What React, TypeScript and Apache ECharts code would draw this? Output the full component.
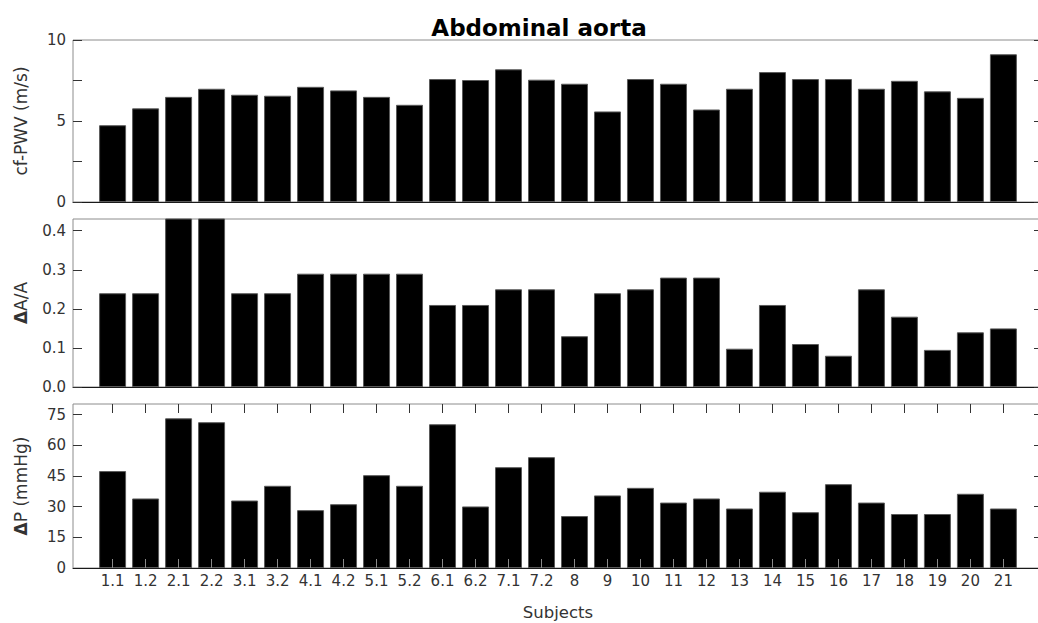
import React, { useEffect, useRef } from "react";
import * as echarts from "echarts";

const subjects = ["1.1","1.2","2.1","2.2","3.1","3.2","4.1","4.2","5.1","5.2","6.1","6.2","7.1","7.2","8","9","10","11","12","13","14","15","16","17","18","19","20","21"];
const pwv = [4.74,5.78,6.49,6.99,6.62,6.56,7.11,6.89,6.49,6.0,7.59,7.53,8.19,7.55,7.3,5.59,7.59,7.3,5.71,6.99,8.02,7.59,7.59,6.99,7.48,6.83,6.43,9.12];
const dAA = [0.24,0.24,0.48,0.48,0.24,0.24,0.29,0.29,0.29,0.29,0.21,0.21,0.25,0.25,0.13,0.24,0.25,0.28,0.28,0.098,0.21,0.11,0.08,0.25,0.18,0.095,0.14,0.15];
const dP = [47.4,34,73.2,71.3,33,40.2,28.3,31.2,45.4,40.2,70.3,30.1,49.3,54.2,25.4,35.5,39.2,32,34,29.1,37.3,27.3,41,32,26.4,26.4,36.3,29.1];

const pwvTicks = [0, 2.5, 5, 7.5, 10];
const pwvLabels = [0, 5, 10];
const aaTicks = [0, 0.1, 0.2, 0.3, 0.4];
const dpTicks = [0, 15, 30, 45, 60, 75];

const FONT = "DejaVu Sans";
const LABEL = "#333";

export default function App() {
  const ref = useRef<HTMLDivElement>(null);
  useEffect(() => {
    if (!ref.current) return;
    const chart = echarts.init(ref.current, undefined, { renderer: "svg" });
    const positions = subjects.map((_, i) => i + 1);
    const grids = [
      { left: 73, top: 40, width: 970, height: 162 },
      { left: 73, top: 219, width: 970, height: 168 },
      { left: 73, top: 404, width: 970, height: 164 },
    ].map((g) => ({
      ...g,
      show: true,
      borderColor: "#8c8c8c",
      borderWidth: 1,
      containLabel: false,
      outerBoundsMode: "none",
    }));

    const xBase = (gi: number, last: boolean) => ({
      type: "value",
      gridIndex: gi,
      min: -0.2,
      max: 29.2,
      position: "bottom",
      splitLine: { show: false },
      axisLine: { show: true, onZero: false, lineStyle: { color: "#1a1a1a", width: 1 } },
      axisTick: last
        ? { show: true, inside: true, length: 9, customValues: positions, lineStyle: { color: "#8a8a8a" } }
        : { show: false },
      axisLabel: last
        ? {
            show: true,
            customValues: positions,
            margin: 5,
            color: LABEL,
            fontFamily: FONT,
            fontSize: 15,
            formatter: (v: number) => subjects[Math.round(v) - 1] ?? "",
          }
        : { show: false },
      name: last ? "Subjects" : "",
      nameLocation: "middle",
      nameGap: 36,
      nameTextStyle: { color: LABEL, fontFamily: FONT, fontSize: 16.5 },
      z: last ? 3 : 0,
    });

    const xAxes: any[] = [xBase(0, false), xBase(1, false), xBase(2, true)];
    xAxes.push({
      type: "value",
      gridIndex: 2,
      min: -0.2,
      max: 29.2,
      position: "top",
      splitLine: { show: false },
      axisLine: { show: false, onZero: false },
      axisTick: { show: true, inside: true, length: 9, customValues: positions, lineStyle: { color: "#333" } },
      axisLabel: { show: false },
    });

    const nameStyle = {
      color: LABEL,
      fontFamily: FONT,
      fontSize: 17,
      rich: { d: { fontFamily: FONT, fontSize: 17, fontWeight: "bold", color: LABEL } },
    };

    const yPair = (gi: number, min: number, max: number, ticks: number[], labels: number[], fmt: (v: number) => string, name: string) => [
      {
        type: "value",
        gridIndex: gi,
        min,
        max,
        position: "left",
        splitLine: { show: false },
        axisLine: { show: false, onZero: false },
        axisTick: { show: true, inside: true, length: 9, customValues: ticks, lineStyle: { color: "#333" } },
        axisLabel: { show: true, customValues: labels, margin: 7, color: LABEL, fontFamily: FONT, fontSize: 15, formatter: fmt },
        name,
        nameLocation: "middle",
        nameGap: 44,
        nameTextStyle: nameStyle,
      },
      {
        type: "value",
        gridIndex: gi,
        min,
        max,
        position: "right",
        splitLine: { show: false },
        axisLine: { show: false, onZero: false },
        axisTick: { show: true, inside: true, length: 9, customValues: ticks, lineStyle: { color: "#333" } },
        axisLabel: { show: false },
      },
    ];

    const yAxes = [
      ...yPair(0, 0, 10, pwvTicks, pwvLabels, (v) => String(v), "cf-PWV (m/s)"),
      ...yPair(1, 0, 0.43, aaTicks, aaTicks, (v) => v.toFixed(1), "{d|Δ}A/A"),
      ...yPair(2, 0, 80.2, dpTicks, dpTicks, (v) => String(v), "{d|Δ}P (mmHg)"),
    ];

    const barSeries = (values: number[], idx: number) => ({
      type: "bar",
      xAxisIndex: idx,
      yAxisIndex: idx * 2,
      barWidth: 27,
      clip: true,
      itemStyle: { color: "#000", borderColor: "#5a5a5a", borderWidth: 1 },
      data: values.map((v, i) => [positions[i], v]),
    });

    chart.setOption({
      animation: false,
      backgroundColor: "#fff",
      grid: grids,
      xAxis: xAxes,
      yAxis: yAxes,
      graphic: [
        {
          type: "text",
          x: 539,
          y: 28,
          style: {
            text: "Abdominal aorta",
            align: "center",
            verticalAlign: "middle",
            fontFamily: FONT,
            fontSize: 23,
            fontWeight: "bold",
            fill: "#000",
          },
        },
      ],
      series: [barSeries(pwv, 0), barSeries(dAA, 1), barSeries(dP, 2)],
    });
    return () => chart.dispose();
  }, []);
  return <div ref={ref} style={{ position: "fixed", left: 0, top: 0, width: 1038, height: 623 }} />;
}
